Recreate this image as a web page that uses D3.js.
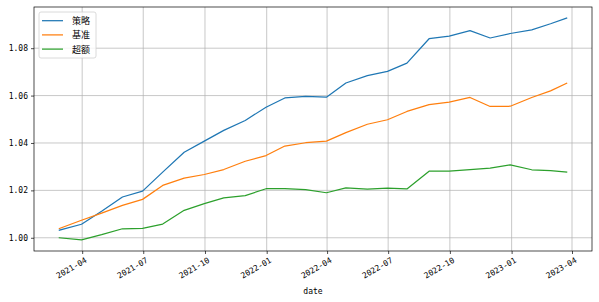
<!DOCTYPE html>
<html>
<head>
<meta charset="utf-8">
<script src="https://cdn.jsdelivr.net/npm/d3@7"></script>
<style>
  body { margin: 0; background: #fff; }
  svg { display: block; font-family: "Noto Sans CJK SC", "DejaVu Sans", sans-serif; }
  .grid line { stroke: #b0b0b0; stroke-width: 0.7; }
  .axis text { font-family: "DejaVu Sans Mono", "Liberation Mono", monospace; font-size: 8px; fill: #000; }
</style>
</head>
<body>
<div id="chart"></div>
<script>
let width = 599,
    height = 302,
    margin = ({ top: 7, right: 7, bottom: 51, left: 34 });

// month-end dates
const dates = ["2021-02-26", "2021-03-31", "2021-04-30", "2021-05-31", "2021-06-30", "2021-07-30",
  "2021-08-31", "2021-09-30", "2021-10-29", "2021-11-30", "2021-12-31", "2022-01-28",
  "2022-02-28", "2022-03-31", "2022-04-29", "2022-05-31", "2022-06-30", "2022-07-29",
  "2022-08-31", "2022-09-30", "2022-10-31", "2022-11-30", "2022-12-30", "2023-01-31",
  "2023-02-28", "2023-03-24"];

const strategy = [1.0032, 1.0057, 1.0112, 1.0172, 1.0197, 1.0277, 1.0361, 1.0408, 1.0453, 1.0495,
  1.0551, 1.0590, 1.0597, 1.0593, 1.0653, 1.0684, 1.0702, 1.0737, 1.0840, 1.0851,
  1.0874, 1.0843, 1.0862, 1.0877, 1.0903, 1.0927];

const benchmark = [1.0039, 1.0074, 1.0104, 1.0137, 1.0162, 1.0221, 1.0252, 1.0267, 1.0288, 1.0323,
  1.0347, 1.0387, 1.0401, 1.0408, 1.0444, 1.0479, 1.0498, 1.0533, 1.0562, 1.0572,
  1.0592, 1.0554, 1.0555, 1.0592, 1.0620, 1.0652];

const excess = [1.0000, 0.9991, 1.0013, 1.0038, 1.0040, 1.0058, 1.0116, 1.0144, 1.0168, 1.0178,
  1.0207, 1.0207, 1.0203, 1.0190, 1.0211, 1.0205, 1.0209, 1.0206, 1.0281, 1.0281,
  1.0288, 1.0294, 1.0308, 1.0287, 1.0283, 1.0277];

const seriesNames = ["策略", "基准", "超额"];
const colors = ["#1f77b4", "#ff7f0e", "#2ca02c"];
const yTicks = [1.00, 1.02, 1.04, 1.06, 1.08];
const xTicks = ["2021-04-01", "2021-07-01", "2021-10-01", "2022-01-01", "2022-04-01",
  "2022-07-01", "2022-10-01", "2023-01-01", "2023-04-01"];

const parse = d3.utcParse("%Y-%m-%d");
const t = dates.map(parse);
const series = [strategy, benchmark, excess];

const svg = d3.select("#chart")
  .append("svg")
  .attr("width", width)
  .attr("height", height);

// matplotlib-like 5% margins
let t0 = t[0], t1 = t[t.length - 1], span = t1 - t0;
let x = d3.scaleUtc()
  .domain([new Date(+t0 - 0.05 * span), new Date(+t1 + 0.05 * span)])
  .range([margin.left, width - margin.right]);

let allVals = series.flat();
let lo = d3.min(allVals), hi = d3.max(allVals), pad = (hi - lo) * 0.05;
let y = d3.scaleLinear()
  .domain([lo - pad, hi + pad])
  .range([height - margin.bottom, margin.top]);

// grid
svg.append("g")
  .attr("class", "grid")
  .selectAll("line.v")
  .data(xTicks.map(parse))
  .join("line")
  .attr("x1", d => x(d)).attr("x2", d => x(d))
  .attr("y1", margin.top).attr("y2", height - margin.bottom);

svg.append("g")
  .attr("class", "grid")
  .selectAll("line.h")
  .data(yTicks)
  .join("line")
  .attr("x1", margin.left).attr("x2", width - margin.right)
  .attr("y1", d => y(d)).attr("y2", d => y(d));

// lines
let line = d3.line()
  .x((d, i) => x(t[i]))
  .y(d => y(d));

series.forEach((s, k) => {
  svg.append("path")
    .datum(s)
    .attr("fill", "none")
    .attr("stroke", colors[k])
    .attr("stroke-width", 1.25)
    .attr("stroke-linejoin", "round")
    .attr("stroke-linecap", "square")
    .attr("d", line);
});

// frame
svg.append("rect")
  .attr("x", margin.left).attr("y", margin.top)
  .attr("width", width - margin.left - margin.right)
  .attr("height", height - margin.top - margin.bottom)
  .attr("fill", "none")
  .attr("stroke", "#000")
  .attr("stroke-width", 0.7);

// axes
svg.append("g")
  .attr("class", "axis")
  .attr("transform", `translate(${margin.left},0)`)
  .call(d3.axisLeft(y)
    .tickValues(yTicks)
    .tickSize(3)
    .tickPadding(3)
    .tickFormat(d3.format(".2f")))
  .call(g => g.select(".domain").remove())
  .call(g => g.selectAll(".tick line").attr("stroke-width", 0.7));

svg.append("g")
  .attr("class", "axis")
  .attr("transform", `translate(0,${height - margin.bottom})`)
  .call(d3.axisBottom(x)
    .tickValues(xTicks.map(parse))
    .tickSize(3)
    .tickFormat(d3.utcFormat("%Y-%m")))
  .call(g => g.select(".domain").remove())
  .call(g => g.selectAll(".tick line").attr("stroke-width", 0.7))
  .call(g => g.selectAll(".tick text")
    .attr("text-anchor", "end")
    .attr("dy", null)
    .attr("y", 0)
    .attr("dominant-baseline", "hanging")
    .attr("transform", "translate(2,6) rotate(-30)"));

svg.append("text")
  .attr("x", (margin.left + width - margin.right) / 2)
  .attr("y", 294)
  .attr("text-anchor", "middle")
  .attr("font-family", "DejaVu Sans Mono, monospace")
  .attr("font-size", "8px")
  .text("date");

// legend
let legend = svg.append("g")
  .attr("transform", `translate(${margin.left + 5},${margin.top + 5})`);

legend.append("rect")
  .attr("width", 57).attr("height", 46)
  .attr("rx", 2)
  .attr("fill", "#fff")
  .attr("fill-opacity", 0.8)
  .attr("stroke", "#d0d0d0")
  .attr("stroke-width", 0.8);

seriesNames.forEach((name, k) => {
  let ly = 8.7 + k * 14.2;
  legend.append("line")
    .attr("x1", 3).attr("x2", 24)
    .attr("y1", ly).attr("y2", ly)
    .attr("stroke", colors[k])
    .attr("stroke-width", 1.25);
  legend.append("text")
    .attr("x", 33).attr("y", ly)
    .attr("dominant-baseline", "central")
    .attr("font-size", "9px")
    .text(name);
});
</script>
</body>
</html>
